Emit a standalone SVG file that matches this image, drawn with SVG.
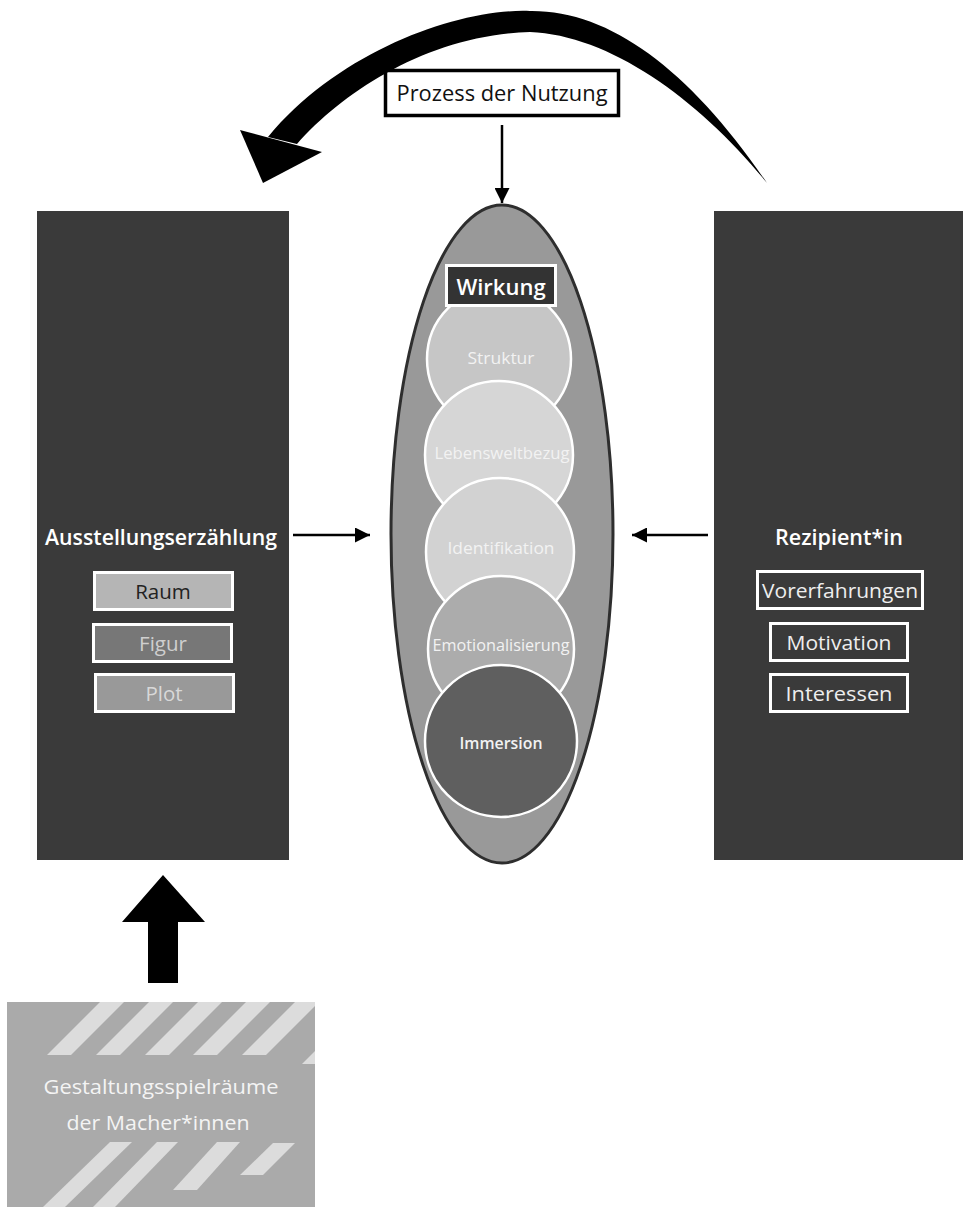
<svg xmlns="http://www.w3.org/2000/svg" width="963" height="1207" viewBox="0 0 963 1207">
<style>
text{font-family:"Open Sans","Liberation Sans",sans-serif;text-anchor:middle;dominant-baseline:central}
.panel{fill:#3a3a3a}
.title{fill:#fff;font-size:21px;font-weight:600}
.item{font-size:20.5px}
.circ{stroke:#fff;stroke-width:2.5}
.ctext{fill:#f2f2f2;font-size:16px}
.stripe{fill:#dcdcdc}
.line{stroke:#000;stroke-width:2.5;fill:none}
</style>
<defs>
<marker id="ah" viewBox="0 0 10 10" refX="10" refY="5" markerWidth="8" markerHeight="6" markerUnits="strokeWidth" orient="auto">
<path d="M0,0 L10,5 L0,10 z" fill="#000"/>
</marker>
<clipPath id="gclip"><rect x="7" y="1002" width="308" height="205"/></clipPath>
</defs>
<rect width="963" height="1207" fill="#fff"/>

<g id="ausstellung">
<rect class="panel" x="37" y="211" width="252" height="649"/>
<text class="title" x="161" y="537" textLength="232" lengthAdjust="spacingAndGlyphs">Ausstellungserzählung</text>
<rect x="94.5" y="572.5" width="138" height="37" fill="#b5b5b5" stroke="#fff" stroke-width="3"/>
<text class="item" x="163" y="591" fill="#222">Raum</text>
<rect x="93.5" y="624.5" width="138" height="37" fill="#777" stroke="#fff" stroke-width="3"/>
<text class="item" x="163" y="643" fill="#cfcfcf">Figur</text>
<rect x="95.5" y="674.5" width="138" height="37" fill="#999" stroke="#fff" stroke-width="3"/>
<text class="item" x="164" y="693" fill="#d8d8d8">Plot</text>
</g>

<g id="rezipient">
<rect class="panel" x="714" y="211" width="249" height="649"/>
<text class="title" x="839" y="537" textLength="128" lengthAdjust="spacingAndGlyphs">Rezipient*in</text>
<rect x="757.5" y="571.5" width="165" height="37" fill="#3a3a3a" stroke="#fff" stroke-width="3"/>
<text class="item" x="840" y="590" fill="#eee" textLength="156" lengthAdjust="spacingAndGlyphs">Vorerfahrungen</text>
<rect x="770.5" y="623.5" width="137" height="37" fill="#3a3a3a" stroke="#fff" stroke-width="3"/>
<text class="item" x="839" y="642" fill="#eee" textLength="105" lengthAdjust="spacingAndGlyphs">Motivation</text>
<rect x="770.5" y="674.5" width="137" height="37" fill="#3a3a3a" stroke="#fff" stroke-width="3"/>
<text class="item" x="839" y="693" fill="#eee" textLength="107" lengthAdjust="spacingAndGlyphs">Interessen</text>
</g>

<g id="wirkung">
<ellipse cx="502" cy="534" rx="111" ry="329" fill="#999" stroke="#2e2e2e" stroke-width="3"/>
<g id="struktur"><circle class="circ" cx="499" cy="359" r="72" fill="#c6c6c6"/><text class="ctext" x="501" y="358" textLength="67" lengthAdjust="spacingAndGlyphs">Struktur</text></g>
<g id="lebenswelt"><circle class="circ" cx="499" cy="455" r="74" fill="#d6d6d6"/><text class="ctext" x="502" y="453" textLength="135" lengthAdjust="spacingAndGlyphs">Lebensweltbezug</text></g>
<g id="identifikation"><circle class="circ" cx="500" cy="552" r="74" fill="#d2d2d2"/><text class="ctext" x="501" y="548" textLength="107" lengthAdjust="spacingAndGlyphs">Identifikation</text></g>
<g id="emotional"><circle class="circ" cx="501" cy="649" r="73" fill="#acacac"/><text class="ctext" x="501" y="645" textLength="137" lengthAdjust="spacingAndGlyphs">Emotionalisierung</text></g>
<g id="immersion"><circle class="circ" cx="501" cy="741" r="76" fill="#5f5f5f"/><text class="ctext" x="501" y="743" font-weight="600" textLength="83" lengthAdjust="spacingAndGlyphs">Immersion</text></g>
<g id="wirkung-label"><rect x="446.5" y="265.5" width="109" height="40" fill="#333" stroke="#fff" stroke-width="3"/><text x="501" y="286" fill="#fff" font-size="22" font-weight="600">Wirkung</text></g>
</g>

<g id="prozess">
<rect x="385.5" y="70.5" width="233" height="45" fill="#fff" stroke="#000" stroke-width="3.5"/>
<text x="502" y="93" fill="#111" font-size="21" textLength="211" lengthAdjust="spacingAndGlyphs">Prozess der Nutzung</text>
</g>

<g id="gestaltung">
<rect x="7" y="1002" width="308" height="205" fill="#aaa"/>
<g clip-path="url(#gclip)">
<polygon class="stripe" points="47,1055 71,1055 124,1002 100,1002"/>
<polygon class="stripe" points="96,1055 120,1055 173,1002 149,1002"/>
<polygon class="stripe" points="145,1055 169,1055 222,1002 198,1002"/>
<polygon class="stripe" points="193,1055 217,1055 270,1002 246,1002"/>
<polygon class="stripe" points="242,1055 266,1055 319,1002 295,1002"/>
<polygon class="stripe" points="302,1064 326,1064 379,1011 355,1011"/>
<polygon class="stripe" points="43,1207 65,1207 132,1142 110,1142"/>
<polygon class="stripe" points="93,1207 115,1207 178,1142 157,1142"/>
<polygon class="stripe" points="173,1190 197,1190 240,1142 217,1142"/>
<polygon class="stripe" points="240,1175 263,1175 295,1143 273,1143"/>
</g>
<text x="161" y="1086" fill="#f4f4f4" font-size="20" textLength="235" lengthAdjust="spacingAndGlyphs">Gestaltungsspielräume</text>
<text x="158" y="1122" fill="#f4f4f4" font-size="20" textLength="183" lengthAdjust="spacingAndGlyphs">der Macher*innen</text>
</g>

<g id="connectors">
<path d="M767,183 C690,70 610,10 530,11 C460,8 340,50 268,137 L297,144 C345,90 430,35 530,32 C610,35 700,100 767,183 Z" fill="#000"/>
<polygon points="240,130 322,152 263,183" fill="#000"/>
<line class="line" x1="502" y1="125" x2="502" y2="203" marker-end="url(#ah)"/>
<line class="line" x1="293" y1="535" x2="370" y2="535" marker-end="url(#ah)"/>
<line class="line" x1="708" y1="535" x2="632" y2="535" marker-end="url(#ah)"/>
<polygon points="148,983 178,983 178,922 205,922 163,875 122,922 148,922" fill="#000"/>
</g>
</svg>
